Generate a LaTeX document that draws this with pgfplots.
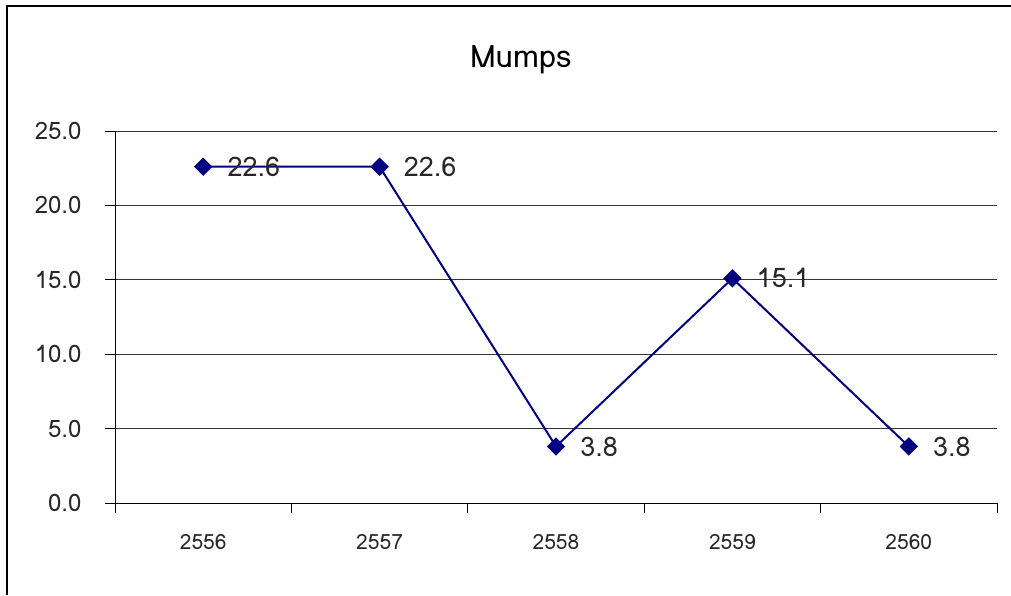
\documentclass[border=0pt]{standalone}
\usepackage{fontspec}
\setmainfont{Loma}
\usepackage{pgfplots}
\pgfplotsset{compat=1.18}
\definecolor{navyline}{RGB}{0,0,128}
\definecolor{txt}{RGB}{40,40,40}
\begin{document}
\begin{tikzpicture}[x=1pt,y=1pt]
\path[use as bounding box] (0,0) rectangle (1011,595);
\draw[line width=1.6pt,black] (7,0) -- (7,589) -- (1011,589);
\node[text=black,font=\fontsize{31}{34}\selectfont] at (521,535) {Mumps};
\begin{axis}[
  at={(115pt,92pt)}, anchor=south west,
  scale only axis, width=882pt, height=372pt,
  xmin=-0.5, xmax=4.5, ymin=0, ymax=25,
  axis x line*=bottom, axis y line*=left,
  axis line style={black, line width=1pt},
  xtick={-0.5,0.5,1.5,2.5,3.5,4.5},
  xticklabels={2556,2557,2558,2559,2560,{}},
  ytick={0,5,10,15,20,25},
  tick style={black, line width=1pt},
  tick align=outside, major tick length=10pt,
  ymajorgrids, grid style={black!80, line width=1pt},
  /pgf/number format/assume math mode=true,
  yticklabel={\pgfmathprintnumber[fixed,fixed zerofill,precision=1]{\tick}},
  yticklabel style={font=\fontsize{24}{26}\selectfont, text=txt, xshift=-20pt},
  xticklabel style={font=\fontsize{21}{24}\selectfont, text=txt, yshift=-18pt, xshift=88.2pt},
  clip=false,
]
\addplot[navyline, line width=2pt, mark=square*, mark size=5.5pt, mark options={fill=navyline, draw=navyline, rotate=45},
  nodes near coords, point meta=explicit,
  nodes near coords style={anchor=west, xshift=20pt, text=txt, font=\fontsize{27}{30}\selectfont, /pgf/number format/.cd, fixed, fixed zerofill, precision=1, assume math mode=true}]
  table[meta=v] {
x y v
0 22.6 22.6
1 22.6 22.6
2 3.8 3.8
3 15.1 15.1
4 3.8 3.8
};
\end{axis}
\end{tikzpicture}
\end{document}
